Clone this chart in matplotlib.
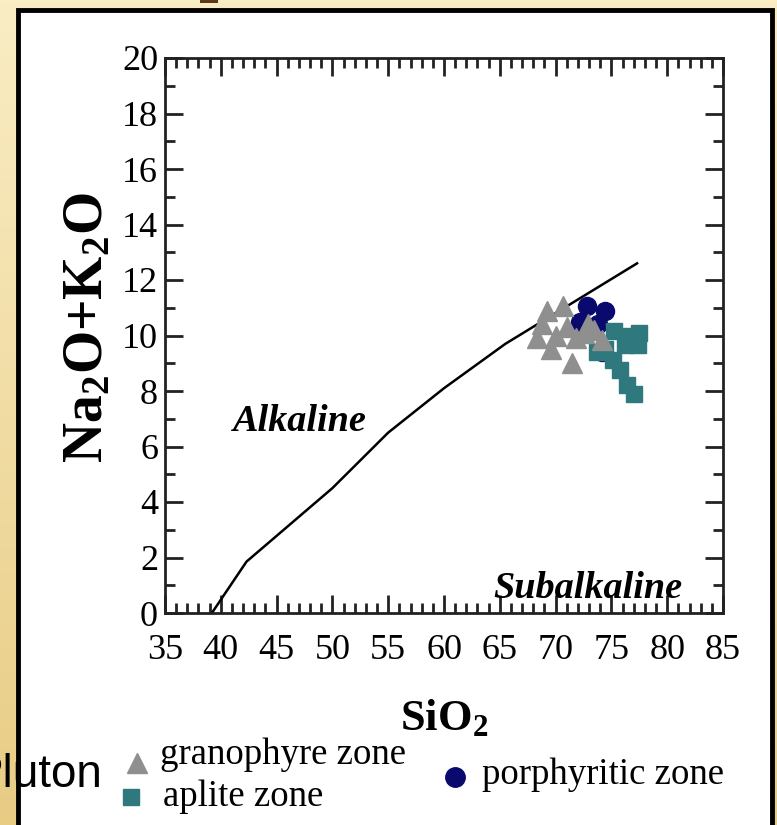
import numpy as np
import matplotlib.pyplot as plt
from matplotlib.patches import Rectangle
from matplotlib.ticker import MultipleLocator

plt.rcParams['mathtext.fontset'] = 'custom'
plt.rcParams['mathtext.rm'] = 'Liberation Serif:bold'
plt.rcParams['mathtext.bf'] = 'Liberation Serif:bold'
plt.rcParams['mathtext.it'] = 'Liberation Serif:bold:italic'

# Alkaline / subalkaline dividing line (Irvine & Baragar)
line_sio2 = [39.2, 42.3, 50.0, 55.0, 60.0, 65.5, 77.3]
line_alk = [0.0, 1.85, 4.5, 6.5, 8.1, 9.7, 12.6]

# granophyre zone
gran_sio2 = [68.3, 68.8, 69.2, 69.6, 70.0, 70.7, 71.0, 71.5, 71.8, 72.5, 72.9, 73.4, 74.2]
gran_alk = [9.9, 10.4, 10.9, 9.5, 10.0, 11.05, 10.3, 9.0, 9.9, 10.1, 10.4, 10.2, 9.85]

# aplite zone
apl_sio2 = [73.7, 74.4, 75.2, 75.1, 75.8, 76.2, 76.4, 77.0, 77.5, 77.4, 76.4]
apl_alk = [9.4, 9.5, 10.15, 9.1, 8.75, 9.65, 8.2, 7.9, 10.1, 9.65, 10.0]

# porphyritic zone
por_sio2 = [72.8, 74.4, 72.2, 73.8, 74.2]
por_alk = [11.05, 10.9, 10.5, 10.4, 9.4]

fig = plt.figure(figsize=(7.77, 8.25), dpi=100)

# golden background with a white panel
bg = fig.add_axes([0, 0, 1, 1], zorder=-10)
grad = np.linspace(0, 1, 200)[:, None] * np.ones((1, 50))
top = np.array([0.98, 0.93, 0.77])
bot = np.array([0.91, 0.80, 0.52])
img = top[None, None, :] * (1 - grad[..., None]) + bot[None, None, :] * grad[..., None]
bg.imshow(img, aspect='auto', extent=[0, 1, 0, 1], origin='upper')
bg.set_xlim(0, 1)
bg.set_ylim(0, 1)
bg.axis('off')
bg.add_patch(Rectangle((18 / 777, -0.05), (772 - 18) / 777, (825 - 10) / 825 + 0.05,
                       facecolor='white', edgecolor='black', linewidth=3.5))
bg.add_patch(Rectangle((200 / 777, 1 - 3 / 825), 18 / 777, 3 / 825, facecolor='#5a3a1a', edgecolor='none'))

ax = fig.add_axes([165 / 777, 212 / 825, 558 / 777, 555 / 825])
ax.plot(line_sio2, line_alk, color='black', linewidth=1.8, zorder=2)
ax.plot(por_sio2, por_alk, 'o', color='#0a0a6e', markersize=13, zorder=3)
ax.plot(apl_sio2, apl_alk, 's', color='#2f787e', markersize=11.5, zorder=4)
ax.plot(gran_sio2, gran_alk, '^', color='#8f8f8f', markersize=15, zorder=5)

ax.set_xlim(35, 85)
ax.set_ylim(0, 20)
ax.xaxis.set_major_locator(MultipleLocator(5))
ax.xaxis.set_minor_locator(MultipleLocator(1))
ax.yaxis.set_major_locator(MultipleLocator(2))
ax.yaxis.set_minor_locator(MultipleLocator(1))
ax.tick_params(which='both', direction='in', top=True, right=True, width=2, color='#222222')
ax.tick_params(which='major', length=13, labelsize=26)
ax.tick_params(which='minor', length=7)
ax.tick_params(axis='x', which='major', pad=15)
ax.tick_params(axis='y', which='major', pad=5)
for s in ax.spines.values():
    s.set_linewidth(2)
    s.set_color('#222222')
for lab in ax.get_xticklabels() + ax.get_yticklabels():
    lab.set_fontfamily('Liberation Serif')

ax.text(-0.138, 0.515, 'Na$_{2}$O+K$_{2}$O', transform=ax.transAxes, rotation=90,
        fontsize=40, fontweight='bold', family='Liberation Serif', ha='center', va='center')
ax.text(0.5, -0.19, 'SiO$_{2}$', transform=ax.transAxes,
        fontsize=32, fontweight='bold', family='Liberation Serif', ha='center', va='center')

ax.text(47.1, 6.9, 'Alkaline', fontsize=27.5, fontweight='bold', style='italic',
        family='Liberation Serif', ha='center', va='center')
ax.text(72.9, 0.9, 'Subalkaline', fontsize=27.5, fontweight='bold', style='italic',
        family='Liberation Serif', ha='center', va='center')

# legend
bg.plot([137 / 777], [1 - 763 / 825], '^', color='#8f8f8f', markersize=15)
bg.plot([131 / 777], [1 - 797 / 825], 's', color='#2f787e', markersize=11.5)
bg.plot([455 / 777], [1 - 777 / 825], 'o', color='#0a0a6e', markersize=14)
bg.text(160 / 777, 1 - 755 / 825, 'granophyre zone', fontsize=26.5, family='Liberation Serif', va='center')
bg.text(163 / 777, 1 - 797 / 825, 'aplite zone', fontsize=26.5, family='Liberation Serif', va='center')
bg.text(482 / 777, 1 - 775 / 825, 'porphyritic zone', fontsize=26.5, family='Liberation Serif', va='center')
bg.text(-28 / 777, 1 - 775 / 825, 'Pluton', fontsize=33, family='Liberation Sans', va='center')

fig.savefig('out.png', dpi=100)
